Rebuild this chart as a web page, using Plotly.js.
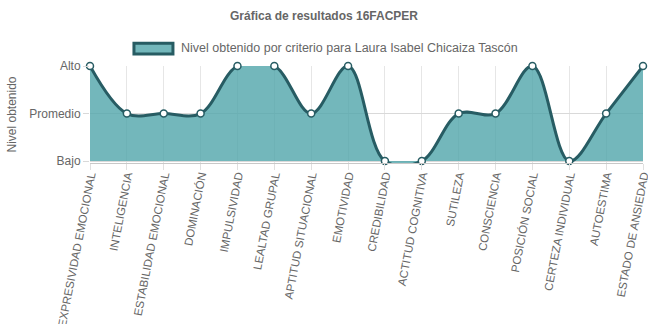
<!DOCTYPE html>
<html><head><meta charset="utf-8">
<script src="https://cdn.plot.ly/plotly-3.0.1.min.js"></script>
<style>html,body{margin:0;padding:0;background:#fff}</style>
</head><body><div id="chart" style="width:648px;height:324px"></div>
<script>
const categories = ["EXPRESIVIDAD EMOCIONAL","INTELIGENCIA","ESTABILIDAD EMOCIONAL","DOMINACIÓN","IMPULSIVIDAD","LEALTAD GRUPAL","APTITUD SITUACIONAL","EMOTIVIDAD","CREDIBILIDAD","ACTITUD COGNITIVA","SUTILEZA","CONSCIENCIA","POSICIÓN SOCIAL","CERTEZA INDIVIDUAL","AUTOESTIMA","ESTADO DE ANSIEDAD"];
const levels = [2,1,1,1,2,2,1,2,0,0,1,1,2,0,1,2];
const levelValues = [0,1,2];
const levelLabels = ["Bajo","Promedio","Alto"];
const seriesName = "Nivel obtenido por criterio para Laura Isabel Chicaiza Tascón";

const font = "Liberation Sans, Arial, Helvetica, sans-serif";
const lineColor = "#275c63";
const fillColor = "rgba(80,165,170,0.8)";
Plotly.newPlot("chart", [{
  x: categories, y: levels, type: "scatter", mode: "lines+markers",
  name: seriesName, showlegend: false,
  line: {shape: "spline", smoothing: 1, color: lineColor, width: 3},
  fill: "tozeroy", fillcolor: fillColor,
  marker: {size: 7, color: "#ffffff", line: {color: lineColor, width: 1.5}},
  cliponaxis: false
}], {
  width: 648, height: 324,
  margin: {l: 90, r: 5, t: 66, b: 161},
  paper_bgcolor: "#fff", plot_bgcolor: "#fff",
  font: {family: font, color: "#666", size: 12},
  title: {text: "<b>Gráfica de resultados 16FACPER</b>", x: 0.5, xanchor: "center", y: 0.95, yanchor: "middle", font: {size: 12, color: "#666", family: font}},
  showlegend: false,
  shapes: [{type: "rect", xref: "paper", yref: "paper", x0: 0.0795, x1: 0.150, y0: 1.125, y1: 1.235,
    fillcolor: fillColor, line: {color: lineColor, width: 3}}],
  annotations: [{text: seriesName, xref: "paper", yref: "paper", x: 0.161, y: 1.186, xanchor: "left", yanchor: "middle",
    showarrow: false, font: {size: 12.5, color: "#666", family: font}}],
  xaxis: {type: "category", tickangle: -79, showgrid: true, gridcolor: "#e6e6e6", ticks: "outside", ticklen: 6, tickcolor: "#e0e0e0", ticklabelstandoff: -6, tickfont: {size: 11.5, color: "#666"}, zeroline: false, showline: true, linecolor: "#c8c8c8", linewidth: 1, automargin: false, range: [0, 15]},
  yaxis: {range: [-0.04, 2], tickvals: levelValues, ticktext: levelLabels, showgrid: true, gridcolor: "#d9d9d9", ticks: "outside", ticklen: 6, tickcolor: "#d9d9d9", tickfont: {size: 12, color: "#666"}, zeroline: false, showline: false, automargin: false,
    title: {text: "Nivel obtenido", font: {size: 12, color: "#666"}, standoff: 10}}
}, {displayModeBar: false});
</script></body></html>
